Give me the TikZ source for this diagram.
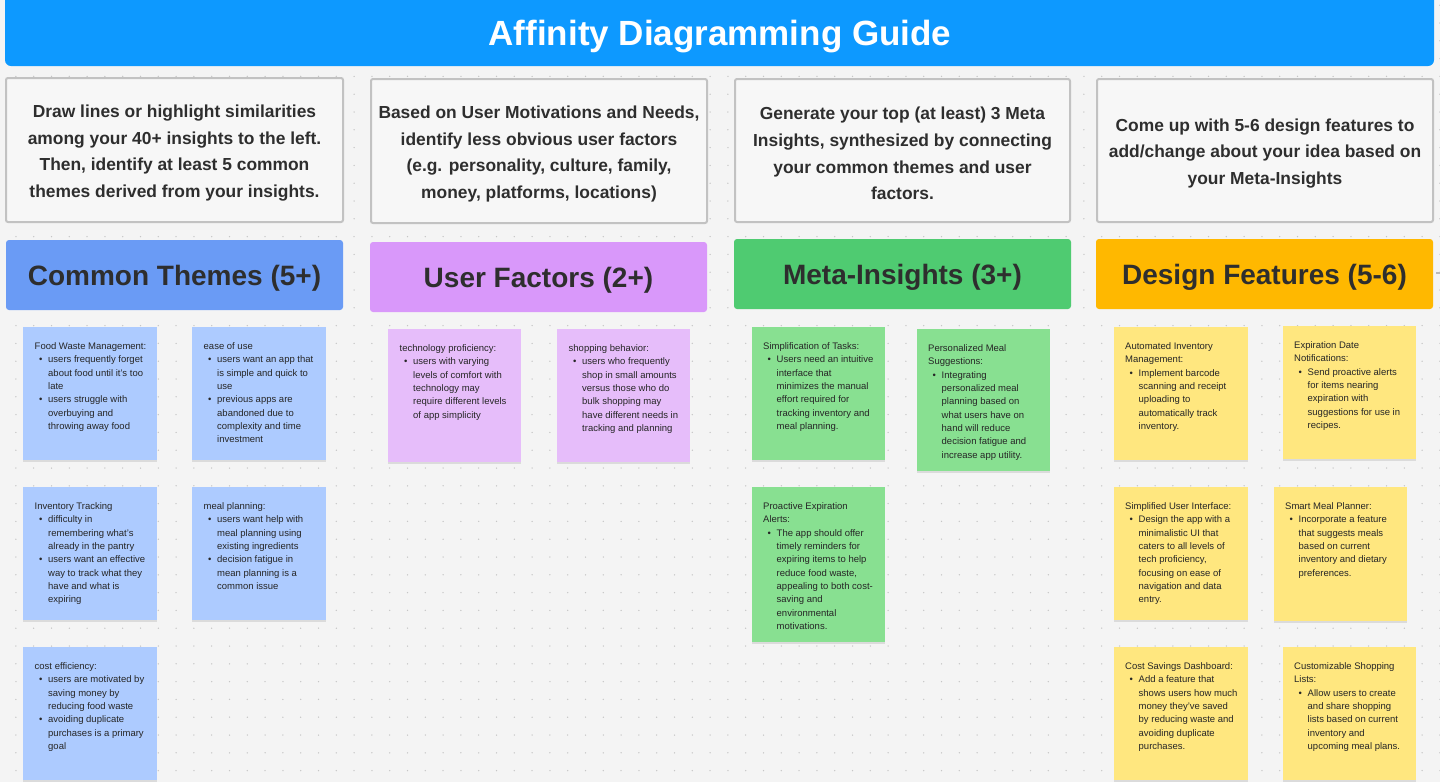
\documentclass[tikz,border=0pt]{standalone}
\usepackage{fontspec}
\setmainfont{Liberation Sans}
\usetikzlibrary{shadows}
\definecolor{bgc}{HTML}{F4F4F4}
\definecolor{dotc}{HTML}{C6C6C6}
\definecolor{titleblue}{HTML}{0D99FF}
\definecolor{instrfill}{HTML}{F7F7F7}
\definecolor{instrdraw}{HTML}{C2C2C2}
\definecolor{txt}{HTML}{2E2E2E}
\definecolor{ntxt}{HTML}{262626}
\definecolor{hblue}{HTML}{6A9BF5}
\definecolor{hpurple}{HTML}{D998FA}
\definecolor{hgreen}{HTML}{4FCB71}
\definecolor{horange}{HTML}{FFB800}
\definecolor{nblue}{HTML}{ADCBFF}
\definecolor{npurple}{HTML}{E6BDFA}
\definecolor{ngreen}{HTML}{88E091}
\definecolor{nyellow}{HTML}{FFE77F}
\newcommand{\nbul}{\makebox[13.5pt][l]{\hspace{4.5pt}\textbullet}}
\newcommand{\ncon}{\hspace*{13.5pt}}
\begin{document}
\begin{tikzpicture}[x=1pt,y=-1pt,
  instr/.style={draw=instrdraw, line width=2pt, fill=instrfill, rounded corners=2pt, align=center, text=txt, font=\fontsize{17.4}{26.7}\selectfont\bfseries, inner sep=0pt},
  header/.style={rounded corners=3pt, text=txt, font=\fontsize{28}{32}\selectfont\bfseries, inner sep=0pt},
  note/.style={anchor=north west, inner sep=0pt, drop shadow={shadow xshift=0pt, shadow yshift=-1.5pt, opacity=0.10, fill=black}},
  notetext/.style={anchor=north west, inner sep=0pt, align=left, text=ntxt, font=\fontsize{9.5}{13.3}\selectfont}
]
\useasboundingbox (0,0) rectangle (1440,782);
\fill[bgc] (0,0) rectangle (1440,782);
\foreach \i in {0,...,81}{\foreach \j in {0,...,43}{\fill[dotc] ({-1.9+17.8*\i},{5.2+17.8*\j}) circle (0.75);}}
% title bar
\fill[titleblue, rounded corners=6pt] (5,-10) rectangle (1434,66);
\node[text=white, font=\fontsize{35}{40}\selectfont\bfseries, inner sep=0pt] (title) at (720,36.5) {Affinity Diagramming Guide};
% instruction boxes
\node[instr, minimum width=337, minimum height=144] (i1) at (174.5,150) {};
\node[instr, draw=none, fill=none] (i1t) at (174.5,153) {Draw lines or highlight similarities\\among your 40+ insights to the left.\\Then, identify at least 5 common\\themes derived from your insights.};
\node[instr, minimum width=336, minimum height=144] (i2) at (539,151) {};
\node[instr, draw=none, fill=none] (i2t) at (539,154) {Based on User Motivations and Needs,\\identify less obvious user factors\\(e.g. personality, culture, family,\\money, platforms, locations)};
\node[instr, minimum width=335, minimum height=143] (i3) at (902.5,150.5) {};
\node[instr, draw=none, fill=none] (i3t) at (902.5,153.5) {Generate your top (at least) 3 Meta\\Insights, synthesized by connecting\\your common themes and user\\factors.};
\node[instr, minimum width=336, minimum height=143] (i4) at (1265,150.5) {};
\node[instr, draw=none, fill=none] (i4t) at (1265,153.5) {Come up with 5-6 design features to\\add/change about your idea based on\\your Meta-Insights};
% headers
\node[header, fill=hblue, minimum width=337, minimum height=70] (h1) at (174.5,275) {};
\node[header] (h1t) at (174.5,278) {Common Themes (5+)};
\node[header, fill=hpurple, minimum width=337, minimum height=70] (h2) at (538.5,277) {};
\node[header] (h2t) at (538.5,280) {User Factors (2+)};
\node[header, fill=hgreen, minimum width=337, minimum height=70] (h3) at (902.5,274) {};
\node[header] (h3t) at (902.5,277) {Meta-Insights (3+)};
\node[header, fill=horange, minimum width=337, minimum height=70] (h4) at (1264.5,274) {};
\node[header] (h4t) at (1264.5,277) {Design Features (5-6)};
\draw[gray!55, line width=2pt] (h4.east |- 0,272.5) ++(3,0) coordinate (edgea) -- (1440,272.5) coordinate (edgeb);
% Common Themes notes
\node[note, fill=nblue, minimum width=134, minimum height=133] (ct1) at (23,327) {};
\node[notetext] (ct1t) at (34.5,342.6) {Food Waste Management:\\\nbul users frequently forget\\\ncon about food until it’s too\\\ncon late\\\nbul users struggle with\\\ncon overbuying and\\\ncon throwing away food};
\node[note, fill=nblue, minimum width=134, minimum height=133] (ct2) at (192,327) {};
\node[notetext] (ct2t) at (203.5,342.6) {ease of use\\\nbul users want an app that\\\ncon is simple and quick to\\\ncon use\\\nbul previous apps are\\\ncon abandoned due to\\\ncon complexity and time\\\ncon investment};
\node[note, fill=nblue, minimum width=134, minimum height=133] (ct3) at (23,487) {};
\node[notetext] (ct3t) at (34.5,502.6) {Inventory Tracking\\\nbul difficulty in\\\ncon remembering what’s\\\ncon already in the pantry\\\nbul users want an effective\\\ncon way to track what they\\\ncon have and what is\\\ncon expiring};
\node[note, fill=nblue, minimum width=134, minimum height=133] (ct4) at (192,487) {};
\node[notetext] (ct4t) at (203.5,502.6) {meal planning:\\\nbul users want help with\\\ncon meal planning using\\\ncon existing ingredients\\\nbul decision fatigue in\\\ncon mean planning is a\\\ncon common issue};
\node[note, fill=nblue, minimum width=134, minimum height=133] (ct5) at (23,647) {};
\node[notetext] (ct5t) at (34.5,662.6) {cost efficiency:\\\nbul users are motivated by\\\ncon saving money by\\\ncon reducing food waste\\\nbul avoiding duplicate\\\ncon purchases is a primary\\\ncon goal};
% User Factors notes
\node[note, fill=npurple, minimum width=133, minimum height=133] (uf1) at (388,329) {};
\node[notetext] (uf1t) at (399.5,344.6) {technology proficiency:\\\nbul users with varying\\\ncon levels of comfort with\\\ncon technology may\\\ncon require different levels\\\ncon of app simplicity};
\node[note, fill=npurple, minimum width=133, minimum height=133] (uf2) at (557,329) {};
\node[notetext] (uf2t) at (568.5,344.6) {shopping behavior:\\\nbul users who frequently\\\ncon shop in small amounts\\\ncon versus those who do\\\ncon bulk shopping may\\\ncon have different needs in\\\ncon tracking and planning};
% Meta-Insights notes
\node[note, fill=ngreen, minimum width=133, minimum height=133] (mi1) at (752,327) {};
\node[notetext] (mi1t) at (763,342.6) {Simplification of Tasks:\\\nbul Users need an intuitive\\\ncon interface that\\\ncon minimizes the manual\\\ncon effort required for\\\ncon tracking inventory and\\\ncon meal planning.};
\node[note, fill=ngreen, minimum width=133, minimum height=142] (mi2) at (917,329) {};
\node[notetext] (mi2t) at (928,344.6) {Personalized Meal\\Suggestions:\\\nbul Integrating\\\ncon personalized meal\\\ncon planning based on\\\ncon what users have on\\\ncon hand will reduce\\\ncon decision fatigue and\\\ncon increase app utility.};
\node[note, fill=ngreen, minimum width=133, minimum height=155] (mi3) at (752,487) {};
\node[notetext] (mi3t) at (763,502.6) {Proactive Expiration\\Alerts:\\\nbul The app should offer\\\ncon timely reminders for\\\ncon expiring items to help\\\ncon reduce food waste,\\\ncon appealing to both cost-\\\ncon saving and\\\ncon environmental\\\ncon motivations.};
% Design Features notes
\node[note, fill=nyellow, minimum width=134, minimum height=133] (df1) at (1114,327) {};
\node[notetext] (df1t) at (1125,342.6) {Automated Inventory\\Management:\\\nbul Implement barcode\\\ncon scanning and receipt\\\ncon uploading to\\\ncon automatically track\\\ncon inventory.};
\node[note, fill=nyellow, minimum width=133, minimum height=133] (df2) at (1283,326) {};
\node[notetext] (df2t) at (1294,341.6) {Expiration Date\\Notifications:\\\nbul Send proactive alerts\\\ncon for items nearing\\\ncon expiration with\\\ncon suggestions for use in\\\ncon recipes.};
\node[note, fill=nyellow, minimum width=134, minimum height=133] (df3) at (1114,487) {};
\node[notetext] (df3t) at (1125,502.6) {Simplified User Interface:\\\nbul Design the app with a\\\ncon minimalistic UI that\\\ncon caters to all levels of\\\ncon tech proficiency,\\\ncon focusing on ease of\\\ncon navigation and data\\\ncon entry.};
\node[note, fill=nyellow, minimum width=133, minimum height=134] (df4) at (1274,487) {};
\node[notetext] (df4t) at (1285,502.6) {Smart Meal Planner:\\\nbul Incorporate a feature\\\ncon that suggests meals\\\ncon based on current\\\ncon inventory and dietary\\\ncon preferences.};
\node[note, fill=nyellow, minimum width=134, minimum height=133] (df5) at (1114,647) {};
\node[notetext] (df5t) at (1125,662.6) {Cost Savings Dashboard:\\\nbul Add a feature that\\\ncon shows users how much\\\ncon money they’ve saved\\\ncon by reducing waste and\\\ncon avoiding duplicate\\\ncon purchases.};
\node[note, fill=nyellow, minimum width=133, minimum height=133] (df6) at (1283,647) {};
\node[notetext] (df6t) at (1294,662.6) {Customizable Shopping\\Lists:\\\nbul Allow users to create\\\ncon and share shopping\\\ncon lists based on current\\\ncon inventory and\\\ncon upcoming meal plans.};
\end{tikzpicture}
\end{document}
